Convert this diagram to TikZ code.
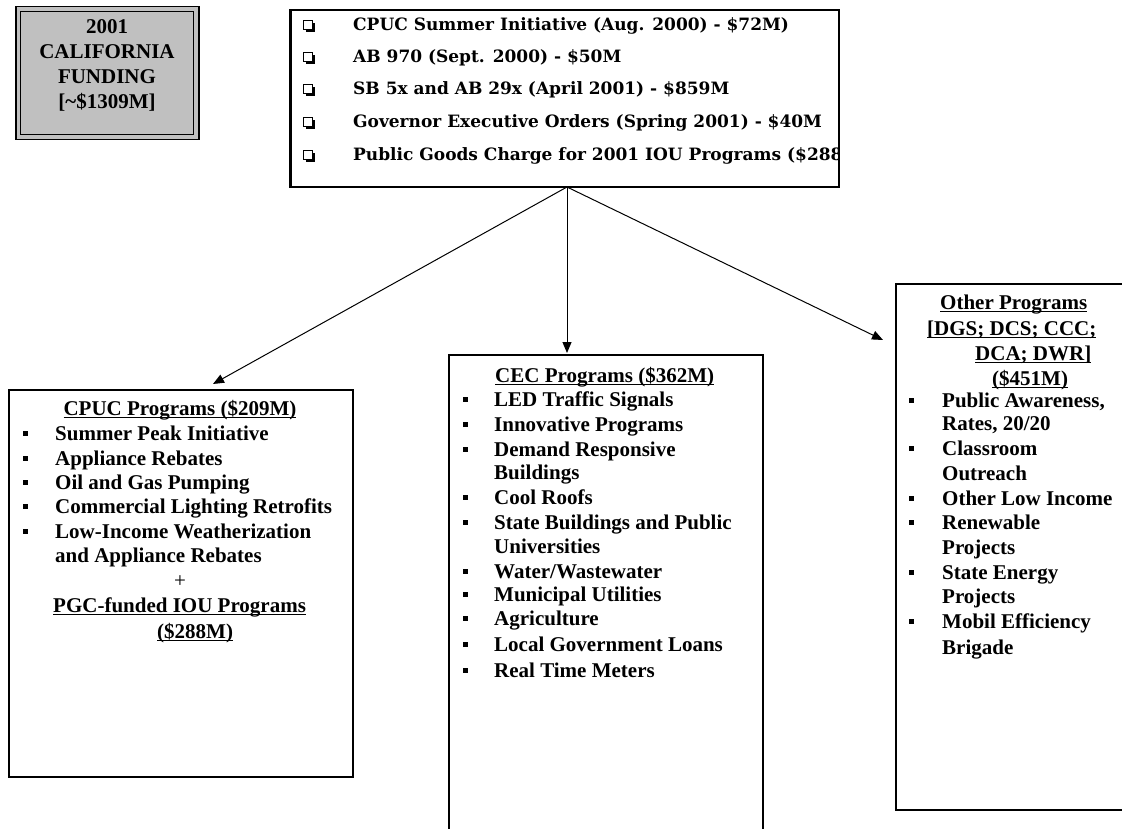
\documentclass[tikz,border=0pt]{standalone}
\usepackage{fontspec}
\setmainfont{Liberation Serif}
\newfontfamily\topfont{DejaVu Serif}
\usetikzlibrary{arrows.meta,shadows}
\definecolor{fundgray}{HTML}{C0C0C0}
\newcommand\ulx[1]{\setbox0=\hbox{#1}\rlap{\rule[-3.2pt]{\wd0}{1.4pt}}\box0}
\tikzset{
  box/.style={draw=black, line width=1.5pt, fill=white, inner sep=0pt, anchor=north west, rectangle},
  txt/.style={inner sep=0pt, font=\bfseries\fontsize{21}{25}\selectfont},
  ltxt/.style={txt, anchor=base west},
  ctxt/.style={txt, anchor=base},
  ttxt/.style={inner sep=0pt, anchor=base west, font=\topfont\bfseries\fontsize{17}{20}\selectfont},
  tbul/.style={draw=black, line width=1.2pt, fill=white, rectangle, minimum size=9.5pt, inner sep=0pt,
    drop shadow={shadow xshift=2.5pt, shadow yshift=-2.5pt, fill=black, opacity=1}},
  bul/.style={fill=black, rectangle, minimum size=5pt, inner sep=0pt},
  conn/.style={line width=1pt, draw=black, -{Triangle[length=11pt,width=9pt]}},
}
\begin{document}
\begin{tikzpicture}[x=1pt,y=-1pt]
\useasboundingbox (0,0) rectangle (1122,829);
\clip (0,0) rectangle (1122,829);
\fill[white] (0,0) rectangle (1122,829);

% ---------- funding box ----------
\node[box, fill=fundgray, minimum width=183pt, minimum height=133pt] (fund) at (15,6) {};
\node[draw=black, line width=1.2pt, inner sep=0pt, minimum width=173pt, minimum height=123pt] (fundin) at (fund.center) {};
\node[ctxt] (f1) at (107,34) {2001};
\node[ctxt] (f2) at (107,59) {CALIFORNIA};
\node[ctxt] (f3) at (107,84) {FUNDING};
\node[ctxt] (f4) at (107,109) {[\char"7E\$1309M]};

% ---------- top box ----------
\node[box, minimum width=548pt, minimum height=176pt] (top) at (290,10) {};
\begin{scope}
\clip (top.south west) rectangle (top.north east);
\foreach \t/\y [count=\i] in {{CPUC Summer Initiative (Aug. 2000) - \$72M)}/25,
  {AB 970 (Sept. 2000) - \$50M}/57,
  {SB 5x and AB 29x (April 2001) - \$859M}/89,
  {Governor Executive Orders (Spring 2001) - \$40M}/122,
  {Public Goods Charge for 2001 IOU Programs (\$288M)}/155} {
  \node[tbul] (tb\i) at (308,\y) {};
  \node[ttxt] (tl\i) at (353,\y+6) {\t};
}
\end{scope}
\draw[line width=1.5pt] (top.south west) rectangle (top.north east);

% ---------- CPUC box ----------
\node[box, minimum width=344pt, minimum height=387pt] (cpuc) at (8,389) {};
\node[ctxt] (ct) at (180,415) {\ulx{CPUC Programs (\$209M)}};
\foreach \b/\t/\y [count=\i] in {1/{Summer Peak Initiative}/433,
  1/{Appliance Rebates}/458,
  1/{Oil and Gas Pumping}/482,
  1/{Commercial Lighting Retrofits}/506,
  1/{Low-Income Weatherization}/531,
  0/{and Appliance Rebates}/555} {
  \node[ltxt] (cl\i) at (55,\y+7) {\t};
  \ifnum\b=1 \node[bul] (cb\i) at (25,\y) {}; \fi
}
\node[ctxt, font=\fontsize{21}{25}\selectfont] (cplus) at (180,587) {+};
\node[ltxt] (cpgc) at (53,612) {\ulx{PGC-funded IOU Programs}};
\node[ltxt] (cpgcm) at (157,638) {\ulx{(\$288M)}};

% ---------- CEC box ----------
\node[box, minimum width=314pt, minimum height=500pt] (cec) at (448,354) {};
\node[ltxt] (et) at (495,382) {\ulx{CEC Programs (\$362M)}};
\foreach \b/\t/\y [count=\i] in {1/{LED Traffic Signals}/399,
  1/{Innovative Programs}/424,
  1/{Demand Responsive}/449,
  0/{Buildings}/472,
  1/{Cool Roofs}/497,
  1/{State Buildings and Public}/522,
  0/{Universities}/546,
  1/{Water/Wastewater}/571,
  1/{Municipal Utilities}/594,
  1/{Agriculture}/618,
  1/{Local Government Loans}/644,
  1/{Real Time Meters}/670} {
  \node[ltxt] (el\i) at (494,\y+7) {\t};
  \ifnum\b=1 \node[bul] (eb\i) at (465,\y) {}; \fi
}

% ---------- Other box ----------
\node[box, minimum width=240pt, minimum height=526pt] (oth) at (895,283) {};
\node[ltxt] (ot1) at (940,309) {\ulx{Other Programs}};
\node[ltxt] (ot2) at (927,335) {\ulx{[DGS; DCS; CCC;}};
\node[ltxt] (ot3) at (975,360) {\ulx{DCA; DWR]}};
\node[ltxt] (ot4) at (992,385) {\ulx{(\$451M)}};
\foreach \b/\t/\y [count=\i] in {1/{Public Awareness,}/400,
  0/{Rates, 20/20}/423,
  1/{Classroom}/448,
  0/{Outreach}/473,
  1/{Other Low Income}/498,
  1/{Renewable}/522,
  0/{Projects}/547,
  1/{State Energy}/572,
  0/{Projects}/596,
  1/{Mobil Efficiency}/621,
  0/{Brigade}/647} {
  \node[ltxt] (ol\i) at (942,\y+7) {\t};
  \ifnum\b=1 \node[bul] (ob\i) at (911,\y) {}; \fi
}

% ---------- connectors ----------
\coordinate (src) at (567,187);
\coordinate (e1) at (213,384);
\coordinate (e2) at (567,353);
\coordinate (e3) at (883,340);
\draw[conn] (src) -- (e1);
\draw[conn] (src) -- (e2);
\draw[conn] (src) -- (e3);
\end{tikzpicture}
\end{document}
